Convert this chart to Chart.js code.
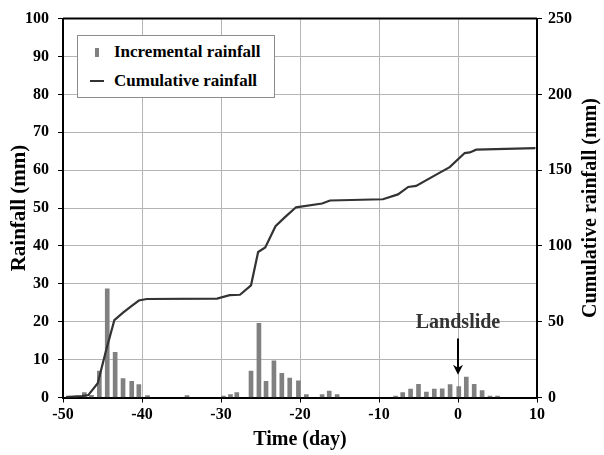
<!DOCTYPE html>
<html lang="en">

<head>
  <meta charset="UTF-8">
  <script src="https://cdn.jsdelivr.net/npm/chart.js"></script>
  <title>Rainfall before landslide</title>
  <style>
    body {
      margin: 0;
      padding: 0;
      background: #fff;
    }

    #wrap {
      position: relative;
      width: 604px;
      height: 455px;
    }

    #legendBox {
      position: absolute;
      left: 77px;
      top: 35px;
      width: 196px;
      height: 61px;
      background: #fff;
      border: 1px solid #8c8c8c;
      font-family: 'Liberation Serif', serif;
      font-weight: bold;
      font-size: 17px;
      color: #000;
    }

    .item {
      position: absolute;
      left: 36px;
      line-height: 18px;
      white-space: nowrap;
    }

    .mark {
      position: absolute;
    }
  </style>
</head>

<body>
  <div id="wrap">
    <canvas id="rainChart" width="604" height="455"></canvas>
    <div id="legendBox">
      <span class="mark" style="left:17px;top:12px;width:4px;height:9px;background:#808080"></span>
      <span class="item" style="top:7px">Incremental rainfall</span>
      <span class="mark" style="left:12px;top:44px;width:14px;height:2px;background:#333"></span>
      <span class="item" style="top:36px">Cumulative rainfall</span>
    </div>
  </div>

  <script>
    // daily rainfall (mm), day relative to landslide
    const barDays = [-49.3, -48.4, -47.3, -46.4, -45.4, -44.4, -43.4, -42.4, -41.3, -40.4, -39.3,
      -34.3, -29.7, -28.8, -28.0,
      -26.2, -25.2, -24.3, -23.3, -22.3, -21.3, -20.2, -19.2, -17.2, -16.3, -15.3,
      -7.9, -7.0, -6.0, -5.0, -4.0, -3.0, -2.0, -1.0, 0.1, 1.05, 2.05, 3.05, 4.05, 5.0];
    const barRain = [0.4, 0.4, 1.3, 0.6, 7.0, 28.7, 11.9, 5.0, 4.3, 3.4, 0.5,
      0.5, 0.4, 0.8, 1.3,
      7.0, 19.6, 4.3, 9.7, 6.4, 5.1, 4.4, 0.8, 0.8, 1.7, 0.8,
      0.4, 1.3, 2.2, 3.5, 1.4, 2.2, 2.3, 3.4, 2.9, 5.4, 3.5, 1.8, 0.4, 0.4];

    // cumulative rainfall (mm)
    const cumDays = [-49.6, -47.6, -46.8, -45.6, -44.6, -43.5, -42.4, -41.3, -40.4, -39.4,
      -30.5, -28.9, -27.6, -26.2, -25.3, -24.4, -23.1, -21.9, -20.5, -17.2, -16.2,
      -9.5, -7.6, -6.3, -5.3, -2.7, -1.05, 0.85, 1.5, 2.3, 9.8];
    const cumRain = [0.3, 0.9, 1.6, 9.4, 30, 51, 56, 60.5, 64, 65,
      65.2, 67.5, 67.8, 74, 96, 99, 113, 119, 125.5, 128, 130,
      130.8, 134, 138.9, 139.6, 147.2, 152, 161.3, 161.7, 163.5, 164.5];

    const xTicks = [-50, -40, -30, -20, -10, 0, 10];
    const rainTicks = [0, 10, 20, 30, 40, 50, 60, 70, 80, 90, 100];
    const cumTicks = [0, 50, 100, 150, 200, 250];

    const serif = 'Liberation Serif';
    const tickFont = { family: serif, size: 16, weight: 'bold' };

    const extras = {
      id: 'extras',
      afterDraw(chart) {
        const { ctx, chartArea, scales } = chart;
        ctx.save();
        // top frame line
        ctx.strokeStyle = '#000';
        ctx.lineWidth = 2;
        ctx.beginPath();
        ctx.moveTo(chartArea.left, chartArea.top);
        ctx.lineTo(chartArea.right, chartArea.top);
        ctx.stroke();

        // right axis title, reading upwards like the left one
        ctx.fillStyle = '#000';
        ctx.font = 'bold 20px "Liberation Serif"';
        ctx.textAlign = 'center';
        ctx.textBaseline = 'middle';
        ctx.save();
        ctx.translate(591, (chartArea.top + chartArea.bottom) / 2);
        ctx.rotate(-Math.PI / 2);
        ctx.fillText('Cumulative rainfall (mm)', 0, 0);
        ctx.restore();

        // landslide marker
        const x = scales.x.getPixelForValue(0);
        ctx.fillStyle = '#333';
        ctx.font = 'bold 20px "Liberation Serif"';
        ctx.fillText('Landslide', x, scales.y.getPixelForValue(19.8));

        const y1 = scales.y.getPixelForValue(15.6);
        const y2 = scales.y.getPixelForValue(6);
        ctx.strokeStyle = '#000';
        ctx.fillStyle = '#000';
        ctx.lineWidth = 2;
        ctx.beginPath();
        ctx.moveTo(x, y1);
        ctx.lineTo(x, y2 - 6);
        ctx.stroke();
        ctx.beginPath();
        ctx.moveTo(x - 5, y2 - 10);
        ctx.lineTo(x, y2);
        ctx.lineTo(x + 5, y2 - 10);
        ctx.lineTo(x, y2 - 7);
        ctx.closePath();
        ctx.fill();
        ctx.restore();
      }
    };

    new Chart(document.getElementById('rainChart'), {
      type: 'bar',
      data: {
        datasets: [{
          type: 'line',
          label: 'Cumulative rainfall',
          data: cumDays.map((d, i) => ({ x: d, y: cumRain[i] })),
          yAxisID: 'y2',
          borderColor: '#333',
          borderWidth: 2.2,
          pointRadius: 0,
          tension: 0,
          order: 0
        }, {
          label: 'Incremental rainfall',
          data: barDays.map((d, i) => ({ x: d, y: barRain[i] })),
          yAxisID: 'y',
          backgroundColor: '#808080',
          barThickness: 4,
          order: 1
        }]
      },
      options: {
        responsive: false,
        animation: false,
        devicePixelRatio: 1,
        layout: { padding: { top: 18, left: 0, right: 0, bottom: 0 } },
        plugins: { legend: { display: false }, tooltip: { enabled: false } },
        scales: {
          x: {
            type: 'linear',
            min: -50,
            max: 10,
            offset: false,
            afterBuildTicks: s => { s.ticks = xTicks.map(v => ({ value: v })); },
            afterFit: s => { s.height = 57.5; },
            grid: { color: '#b5b5b5', tickColor: '#000', tickLength: 5, offset: false },
            border: { color: '#000', width: 2 },
            ticks: { color: '#000', font: tickFont, padding: 3 },
            title: { display: true, text: 'Time (day)', color: '#000', font: { family: serif, size: 20, weight: 'bold' }, padding: { top: 0, bottom: 3 } }
          },
          y: {
            position: 'left',
            min: 0,
            max: 100,
            afterBuildTicks: s => { s.ticks = rainTicks.map(v => ({ value: v })); },
            afterFit: s => { s.width = 63; },
            grid: { color: '#b5b5b5', tickColor: '#000', tickLength: 5 },
            border: { color: '#000', width: 2 },
            ticks: { color: '#000', font: tickFont, padding: 9 },
            title: { display: true, text: 'Rainfall (mm)', color: '#000', font: { family: serif, size: 21, weight: 'bold' }, padding: { top: 7, bottom: 0 } }
          },
          y2: {
            position: 'right',
            min: 0,
            max: 250,
            afterBuildTicks: s => { s.ticks = cumTicks.map(v => ({ value: v })); },
            afterFit: s => { s.width = 67; },
            grid: { drawOnChartArea: false, tickColor: '#000', tickLength: 5 },
            border: { color: '#000', width: 2 },
            ticks: { color: '#000', font: tickFont, padding: 6 }
          }
        }
      },
      plugins: [extras]
    });
  </script>
</body>

</html>
